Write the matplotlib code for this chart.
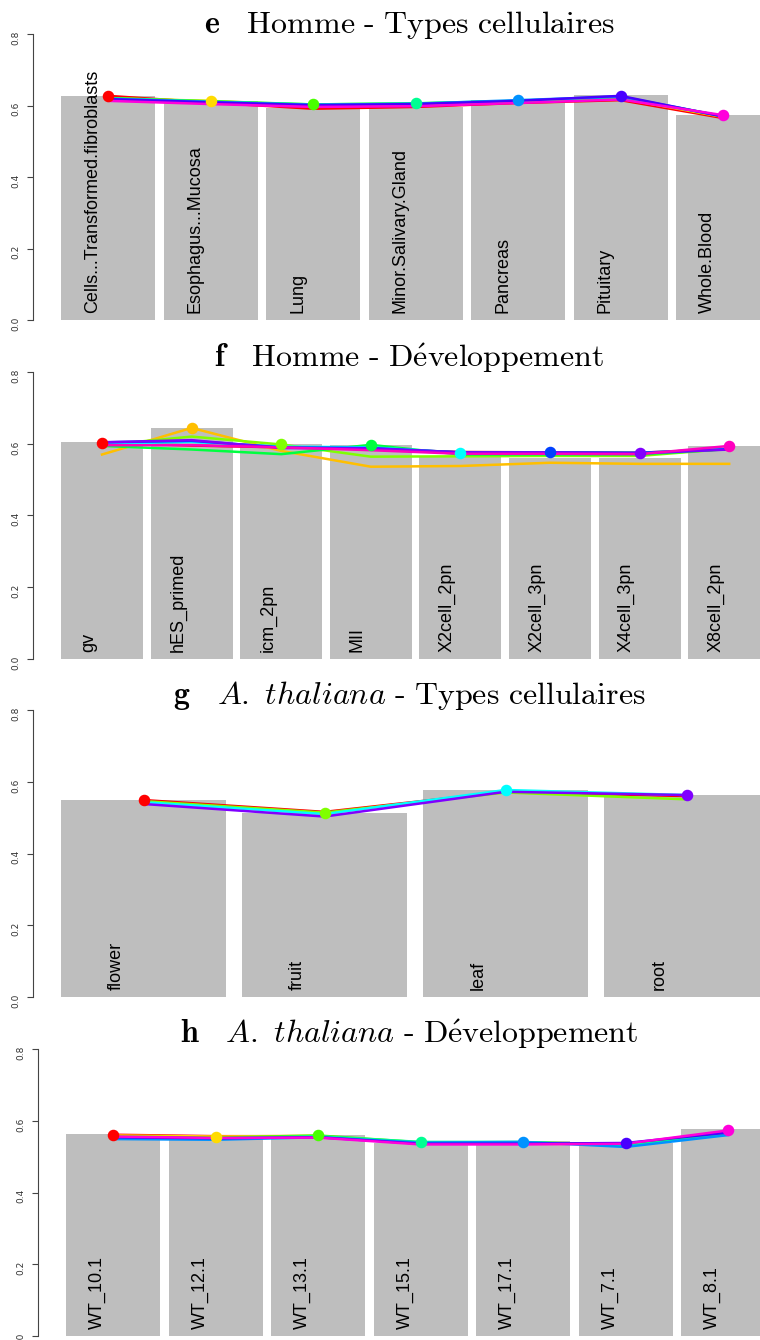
import matplotlib
matplotlib.use("Agg")
import matplotlib.pyplot as plt

plt.rcParams['mathtext.fontset'] = 'cm'

# ---- data ----
e_labels = ["Cells...Transformed.fibroblasts", "Esophagus...Mucosa", "Lung",
            "Minor.Salivary.Gland", "Pancreas", "Pituitary", "Whole.Blood"]
e_bars = [0.627, 0.612, 0.594, 0.597, 0.614, 0.629, 0.573]
e_lines = [
    [0.627, 0.608, 0.591, 0.596, 0.607, 0.615, 0.565],
    [0.620, 0.613, 0.600, 0.602, 0.610, 0.620, 0.568],
    [0.621, 0.612, 0.603, 0.606, 0.612, 0.622, 0.570],
    [0.620, 0.611, 0.603, 0.606, 0.613, 0.624, 0.570],
    [0.619, 0.610, 0.602, 0.605, 0.615, 0.625, 0.570],
    [0.618, 0.609, 0.601, 0.604, 0.613, 0.627, 0.569],
    [0.613, 0.604, 0.596, 0.598, 0.607, 0.617, 0.573],
]

f_labels = ["gv", "hES_primed", "icm_2pn", "MII", "X2cell_2pn", "X2cell_3pn",
            "X4cell_3pn", "X8cell_2pn"]
f_bars = [0.605, 0.644, 0.599, 0.596, 0.565, 0.561, 0.561, 0.594]
f_lines = [
    [0.603, 0.595, 0.590, 0.585, 0.577, 0.576, 0.575, 0.585],
    [0.570, 0.644, 0.580, 0.536, 0.538, 0.547, 0.544, 0.544],
    [0.596, 0.620, 0.598, 0.564, 0.565, 0.566, 0.566, 0.586],
    [0.594, 0.584, 0.571, 0.597, 0.570, 0.570, 0.570, 0.585],
    [0.600, 0.605, 0.592, 0.590, 0.575, 0.575, 0.574, 0.586],
    [0.604, 0.608, 0.590, 0.588, 0.576, 0.576, 0.575, 0.585],
    [0.604, 0.610, 0.588, 0.587, 0.576, 0.576, 0.573, 0.584],
    [0.596, 0.596, 0.590, 0.582, 0.572, 0.572, 0.571, 0.594],
]

g_labels = ["flower", "fruit", "leaf", "root"]
g_bars = [0.549, 0.514, 0.577, 0.563]
g_lines = [
    [0.549, 0.516, 0.572, 0.560],
    [0.546, 0.514, 0.570, 0.551],
    [0.543, 0.510, 0.577, 0.563],
    [0.538, 0.503, 0.572, 0.563],
]

h_labels = ["WT_10.1", "WT_12.1", "WT_13.1", "WT_15.1", "WT_17.1", "WT_7.1", "WT_8.1"]
h_bars = [0.563, 0.551, 0.559, 0.537, 0.544, 0.537, 0.576]
h_lines = [
    [0.561, 0.557, 0.557, 0.537, 0.537, 0.535, 0.568],
    [0.559, 0.556, 0.558, 0.538, 0.538, 0.535, 0.567],
    [0.556, 0.553, 0.559, 0.540, 0.540, 0.534, 0.565],
    [0.553, 0.550, 0.557, 0.541, 0.541, 0.530, 0.562],
    [0.549, 0.547, 0.554, 0.539, 0.541, 0.527, 0.560],
    [0.554, 0.551, 0.554, 0.536, 0.536, 0.538, 0.567],
    [0.556, 0.552, 0.553, 0.534, 0.534, 0.536, 0.573],
]

rainbow7 = ["#FF0000", "#FFDB00", "#49FF00", "#00FF92", "#0092FF", "#4900FF", "#FF00DB"]
rainbow8 = ["#FF0000", "#FFBF00", "#80FF00", "#00FF40", "#00FFFF", "#0040FF", "#8000FF", "#FF00BF"]
rainbow4 = ["#FF0000", "#80FF00", "#00FFFF", "#8000FF"]

titles = [
    r"$\mathbf{e}\quad\mathrm{Homme\ \text{-}\ Types\ cellulaires}$",
    r"$\mathbf{f}\quad\mathrm{Homme\ \text{-}\ D\acute{e}veloppement}$",
    r"$\mathbf{g}\quad A.\ thaliana\mathrm{\ \text{-}\ Types\ cellulaires}$",
    r"$\mathbf{h}\quad A.\ thaliana\mathrm{\ \text{-}\ D\acute{e}veloppement}$",
]

# layout in pixels: axis x, y of 0.0, y of 0.8, first bar left, pitch, bar width, title y
layout = [
    (33, 320, 34, 61, 102.5, 94, 25),
    (33, 659, 372, 61, 89.6, 82, 358),
    (33, 997, 710, 61, 181, 165, 695),
    (38, 1336, 1049, 66, 102.5, 94, 1034),
]

W, H = 760, 1340
fig = plt.figure(figsize=(W / 100, H / 100), dpi=100)

panels = [(e_labels, e_bars, e_lines, rainbow7),
          (f_labels, f_bars, f_lines, rainbow8),
          (g_labels, g_bars, g_lines, rainbow4),
          (h_labels, h_bars, h_lines, rainbow7)]

for (labels, bars, lines, cols), (ax_x, y0, y8, left0, pitch, bw, ty), title in zip(panels, layout, titles):
    ax = fig.add_axes([ax_x / W, 1 - y0 / H, (W - ax_x) / W, (y0 - y8) / H])
    c0 = left0 + bw / 2
    xs = list(range(len(labels)))
    ax.bar(xs, bars, width=bw / pitch, color="#BEBEBE", zorder=1)
    for i, (vals, c) in enumerate(zip(lines, cols)):
        ax.plot(xs, vals, color=c, lw=1.8, zorder=3, clip_on=False)
        ax.plot([xs[i]], [vals[i]], "o", color=c, ms=7.3, zorder=4, clip_on=False)
    for x, lab in zip(xs, labels):
        ax.text(x - 0.15, 0.02, lab, rotation=90, ha="center", va="bottom",
                fontsize=13, family="Liberation Sans", zorder=5)
    ax.set_xlim((ax_x - c0) / pitch, (W - c0) / pitch)
    ax.set_ylim(0, 0.8)
    for s in ["top", "right", "bottom"]:
        ax.spines[s].set_visible(False)
    ax.spines["left"].set_bounds(0, 0.8)
    ax.spines["left"].set_color("#444444")
    ax.set_xticks([])
    ax.set_yticks([0, 0.2, 0.4, 0.6, 0.8])
    ax.set_yticklabels(["0.0", "0.2", "0.4", "0.6", "0.8"])
    ax.tick_params(axis="y", labelrotation=90, labelsize=6.5, length=4, pad=5,
                   colors="#444444", labelcolor="#333333")
    ax.patch.set_visible(False)
    fig.text(409 / W, 1 - ty / H, title, ha="center", va="center", fontsize=23)

fig.savefig("out.png", dpi=100)
